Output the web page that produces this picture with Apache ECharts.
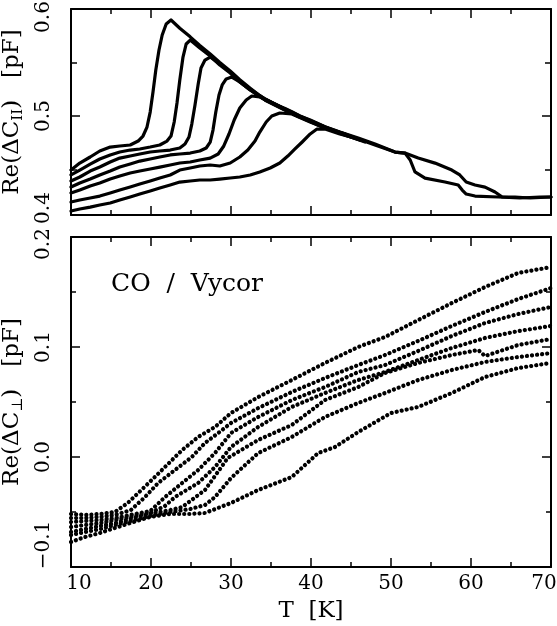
<!DOCTYPE html>
<html><head><meta charset="utf-8">
<script src="https://cdn.jsdelivr.net/npm/echarts@6/dist/echarts.min.js"></script>
<style>html,body{margin:0;padding:0;background:#fff}#c{width:557px;height:626px}</style>
</head><body><div id="c"></div>
<script>
// ---------- axes / ticks ----------
const xMin = 10, xMax = 70, xStep = 10;
const topYMin = 0.4075, topYMax = 0.6;
const topLabelValues = [0.4075, 0.5, 0.6];
const topMajorTicks = [0.5];
const topMinorTicks = [0.45, 0.55];
const botYMin = -0.1, botYMax = 0.2, botYStep = 0.1;
const annotation = 'CO  /  Vycor';
const xTitle = 'T  [K]';

// ---------- top panel: Re(dC_par) [pF] ----------
const topA = [[10,0.4495],[11.1,0.456],[12.4,0.4617],[13.6,0.4673],[14.9,0.471],[16.1,0.472],[17.4,0.4729],[18.4,0.4766],[19,0.4813],[19.5,0.4897],[19.9,0.5037],[20.25,0.5224],[20.6,0.543],[21,0.5617],[21.4,0.5757],[21.9,0.586],[22.5,0.5897],[23.6,0.582],[24.9,0.574],[26.1,0.566],[27.4,0.558],[28.6,0.55],[29.9,0.542],[31.1,0.534],[32.4,0.526],[33.4,0.52],[34.25,0.516],[35.5,0.511],[36.75,0.507],[37.6,0.504],[38.6,0.5],[39.9,0.4963],[41.75,0.49],[43.6,0.485],[45.9,0.4794],[48,0.4738],[50.5,0.4663],[51.75,0.4654],[53.4,0.4607],[55.5,0.456],[57.6,0.4495],[58.6,0.4449],[59.4,0.4383],[60.5,0.4355],[61.75,0.4336],[63,0.429],[63.9,0.4243],[65.5,0.4243],[67.4,0.4234],[70,0.4243]];
const topB = [[10,0.4449],[11.1,0.4495],[12.4,0.4551],[13.6,0.4598],[14.9,0.4636],[16.1,0.4664],[17.4,0.4682],[18.6,0.4692],[19.9,0.471],[21.1,0.4729],[22,0.4766],[22.5,0.4813],[22.9,0.4944],[23.25,0.5121],[23.6,0.5336],[24,0.5551],[24.4,0.5673],[24.9,0.571],[26.1,0.5636],[27.4,0.5561],[28.6,0.5477],[29.9,0.5402],[31.1,0.5318],[32.4,0.5243],[34.25,0.515],[36.75,0.5056],[38.6,0.4991],[41.75,0.4888],[44.25,0.4832]];
const topC = [[10,0.4393],[11.1,0.443],[12.4,0.4486],[13.6,0.4523],[14.9,0.457],[16.1,0.4607],[17.4,0.4626],[18.6,0.4645],[19.9,0.4664],[21.1,0.4673],[22.4,0.4682],[23.6,0.4701],[24.25,0.4738],[24.75,0.4804],[25.1,0.4925],[25.5,0.5103],[25.9,0.5299],[26.25,0.5449],[26.75,0.5523],[27.4,0.5551],[28.6,0.5486],[29.9,0.5411],[31.1,0.5327],[32.4,0.5252],[34.25,0.5159],[36.75,0.5065],[38.6,0.5],[41.75,0.4897],[43.6,0.4841]];
const topD = [[10,0.4336],[11.1,0.4374],[12.4,0.4411],[13.6,0.4449],[14.9,0.4486],[16.1,0.4523],[17.4,0.4551],[18.6,0.4579],[19.9,0.4598],[21.1,0.4617],[22.4,0.4636],[23.6,0.4645],[24.9,0.4654],[26.1,0.4673],[26.9,0.4701],[27.4,0.4757],[27.75,0.4869],[28.1,0.5037],[28.5,0.5196],[28.9,0.529],[29.4,0.5346],[30.1,0.5364],[31.1,0.5318],[32.4,0.5243],[34.25,0.515],[36.75,0.5056],[38.6,0.4991],[41.75,0.4897],[44.25,0.4832],[45.9,0.4785]];
const topE = [[10,0.428],[11.1,0.4308],[12.4,0.4346],[13.6,0.4374],[14.9,0.4411],[16.1,0.4439],[17.4,0.4467],[18.6,0.4486],[19.9,0.4505],[21.1,0.4523],[22.4,0.4542],[23.6,0.4561],[24.9,0.457],[26.1,0.4589],[27.4,0.4607],[28.4,0.4645],[29.1,0.472],[29.75,0.4832],[30.4,0.4963],[31.1,0.5075],[31.9,0.5149],[32.6,0.5187],[33.6,0.5178],[35.5,0.5112],[37.6,0.5028],[39.9,0.4953],[41.75,0.4888],[44.25,0.4822],[46.1,0.4776]];
const topF = [[10,0.4196],[11.1,0.4215],[12.4,0.4234],[13.6,0.4252],[14.9,0.428],[16.1,0.4308],[17.4,0.4336],[18.6,0.4364],[19.9,0.4393],[21.1,0.4421],[22.4,0.4449],[23.6,0.4495],[24.9,0.4514],[26.1,0.4533],[27.4,0.4542],[28.6,0.4533],[29.9,0.4561],[31.1,0.4617],[32.1,0.4682],[33,0.4766],[33.6,0.485],[34.4,0.4944],[35.1,0.5],[36.1,0.5028],[37.6,0.5019],[39.9,0.4944],[41.75,0.4888],[44.25,0.4822],[46.75,0.4757]];
const topG = [[10,0.4112],[11.1,0.4131],[12.4,0.4149],[13.6,0.4168],[14.9,0.4187],[16.1,0.4215],[17.4,0.4243],[18.6,0.4271],[19.9,0.4299],[21.1,0.4327],[22.4,0.4355],[23.6,0.4383],[24.9,0.4393],[26.1,0.4402],[27.4,0.4402],[28.6,0.4411],[29.9,0.4421],[31.1,0.443],[32.4,0.4449],[33.6,0.4477],[34.9,0.4514],[36.1,0.4561],[37.1,0.4626],[38,0.4692],[38.9,0.4757],[39.9,0.4832],[40.75,0.4878],[41.75,0.4878],[43.6,0.4832],[45.9,0.4785],[48,0.4729],[50.5,0.4663],[51.75,0.4654],[52.4,0.4589],[53,0.4477],[54.25,0.442],[56.75,0.4383],[58.4,0.4355],[58.9,0.4308],[59.4,0.4271],[60.5,0.4252],[63.4,0.4243],[66.1,0.4234],[68.6,0.4243],[70,0.4243]];

// ---------- bottom panel: Re(dC_perp) [pF] ----------
const bot1 = [[10,-0.0518],[11.75,-0.0527],[13.6,-0.0518],[15.5,-0.05],[17.1,-0.0418],[18.4,-0.0327],[20.1,-0.0209],[21.75,-0.0091],[23.9,0.0064],[25.9,0.0182],[28,0.0273],[30,0.04],[33.4,0.0545],[37.6,0.07],[41.75,0.0855],[45.9,0.1],[49.25,0.1091],[53.4,0.1245],[57.6,0.14],[61.75,0.1545],[65.9,0.1673],[70,0.1727]];
const bot2 = [[10,-0.0555],[11.75,-0.0555],[13.6,-0.0545],[15.5,-0.0527],[17.5,-0.0482],[19.25,-0.0364],[20.9,-0.0236],[23,-0.0118],[25.1,0],[26.75,0.0127],[28.4,0.0218],[30,0.0309],[33.4,0.0445],[37.6,0.0591],[41.75,0.0718],[45.9,0.0836],[49.25,0.0927],[53.4,0.1055],[57.6,0.1191],[61.75,0.1318],[65.9,0.1436],[70,0.1536]];
const bot3 = [[10,-0.0591],[11.75,-0.0582],[13.6,-0.0573],[15.5,-0.0555],[17.4,-0.0527],[19.9,-0.0491],[21.75,-0.0364],[23.9,-0.0236],[25.9,-0.0118],[28,0.0036],[30,0.0218],[33.4,0.0364],[37.6,0.0518],[41.75,0.0636],[45.9,0.0773],[49.25,0.0836],[53.4,0.0964],[57.6,0.11],[61.75,0.1218],[65.9,0.13],[70,0.1364]];
const bot4 = [[10,-0.0636],[11.75,-0.0618],[13.6,-0.06],[15.5,-0.0573],[17.4,-0.0545],[19.9,-0.0509],[21.75,-0.0445],[23,-0.0364],[25.9,-0.0236],[28,-0.0091],[30,0.0091],[33.4,0.0273],[37.6,0.0455],[41.75,0.0582],[45.9,0.07],[49.25,0.0773],[53.4,0.0882],[57.6,0.0991],[61.75,0.1082],[65.9,0.1145],[70,0.1191]];
const bot5 = [[10,-0.0682],[11.75,-0.0655],[13.6,-0.0627],[15.5,-0.06],[17.4,-0.0564],[19.9,-0.0518],[22.4,-0.0482],[23.9,-0.0455],[26.75,-0.03],[29.6,-0.0009],[33.4,0.0155],[37.6,0.0291],[41.75,0.0518],[45.9,0.0636],[49.25,0.0764],[53.4,0.0855],[57.6,0.0927],[60.9,0.0973],[61.75,0.0918],[65.9,0.1018],[70,0.1073]];
const bot6 = [[10,-0.0709],[11.75,-0.0682],[13.6,-0.0655],[15.5,-0.0618],[17.4,-0.0582],[19.9,-0.0536],[22.4,-0.05],[24.9,-0.0473],[26.75,-0.0436],[28,-0.0364],[30,-0.0191],[33.4,0.0036],[37.6,0.0182],[41.75,0.0364],[45.9,0.0491],[49.25,0.0582],[53.4,0.07],[57.6,0.0791],[61.75,0.0864],[65.9,0.0909],[70,0.0945]];
const bot7 = [[10,-0.0773],[11.75,-0.0727],[13.6,-0.0691],[15.5,-0.0645],[17.4,-0.06],[19.9,-0.0545],[22.4,-0.0518],[24.9,-0.0518],[26.75,-0.0509],[30,-0.0418],[33.4,-0.03],[37.6,-0.0182],[40.9,0.0036],[43,0.0091],[45.9,0.0227],[50,0.04],[53.4,0.0455],[57.6,0.0582],[61.75,0.0727],[65.9,0.0809],[70,0.0855]];

const topCurves = [topA, topB, topC, topD, topE, topF, topG];
const botCurves = [bot1, bot2, bot3, bot4, bot5, bot6, bot7];

// ---------- styling ----------
const FONT = '"DejaVu Serif", serif';
const BLACK = '#000';
const lbl = (size, extra) => Object.assign({fontFamily: FONT, fontSize: size, color: BLACK, lineHeight: size + 2}, extra || {});

function xAxis(gridIndex, position, showLabel) {
  const a = {
    type: 'value', gridIndex, position, min: xMin, max: xMax, interval: xStep,
    axisLine: {show: true, onZero: false, lineStyle: {color: BLACK, width: 2}},
    axisTick: {show: true, inside: true, length: 9, lineStyle: {color: BLACK, width: 1.5}},
    minorTick: {show: true, splitNumber: 2, length: 5, lineStyle: {color: BLACK, width: 1.5}},
    splitLine: {show: false}, minorSplitLine: {show: false},
    axisLabel: {show: false}
  };
  if (showLabel) {
    a.axisLabel = {
      show: true, margin: 6,
      formatter: v => v === xMin ? '{l|' + v + '}' : (v === xMax ? '{r|' + v + '}' : '{n|' + v + '}'),
      rich: {n: lbl(20), l: lbl(20, {padding: [0, 0, 0, 16]}), r: lbl(20, {padding: [0, 14, 0, 0]})}
    };
    a.name = xTitle; a.nameLocation = 'middle'; a.nameGap = 30;
    a.nameTextStyle = {fontFamily: FONT, fontSize: 23, color: BLACK, lineHeight: 24};
  }
  return a;
}

function yTitle(sub) {
  return '{m|Re(ΔC}{s|' + sub + '}{m|)   [pF]}';
}
const titleRich = {m: {fontFamily: FONT, fontSize: 23, lineHeight: 28, color: BLACK, verticalAlign: 'middle'},
                   s: {fontFamily: FONT, fontSize: 15, lineHeight: 15, color: BLACK, verticalAlign: 'bottom'}};

const yAxes = [
  // 0: top-left main
  {type: 'value', gridIndex: 0, position: 'left', min: topYMin, max: topYMax,
   axisLine: {show: true, onZero: false, lineStyle: {color: BLACK, width: 2}},
   axisTick: {show: true, inside: true, length: 9, customValues: topMajorTicks, lineStyle: {color: BLACK, width: 1.5}},
   axisLabel: {show: true, rotate: 90, margin: 16, customValues: topLabelValues,
     formatter: v => { const s = v.toFixed(1); return v > 0.59 ? '{t|' + s + '}' : (v < 0.41 ? '{b|' + s + '}' : '{n|' + s + '}'); },
     rich: {n: lbl(20), t: lbl(20, {padding: [0, 16, 0, 0]}), b: lbl(20, {padding: [0, 0, 0, 14]})}},
   splitLine: {show: false},
   name: yTitle('II'), nameLocation: 'middle', nameRotate: 90, nameGap: 31,
   nameTextStyle: {rich: titleRich}},
  // 1: top-left minor ticks
  {type: 'value', gridIndex: 0, position: 'left', min: topYMin, max: topYMax,
   axisLine: {show: false}, axisLabel: {show: false}, splitLine: {show: false},
   axisTick: {show: true, inside: true, length: 6, customValues: topMinorTicks, lineStyle: {color: BLACK, width: 1.5}}},
  // 2: top-right
  {type: 'value', gridIndex: 0, position: 'right', min: topYMin, max: topYMax,
   axisLine: {show: true, onZero: false, lineStyle: {color: BLACK, width: 2}},
   axisTick: {show: true, inside: true, length: 9, customValues: topMajorTicks, lineStyle: {color: BLACK, width: 1.5}},
   axisLabel: {show: false}, splitLine: {show: false}},
  // 3: top-right minor
  {type: 'value', gridIndex: 0, position: 'right', min: topYMin, max: topYMax,
   axisLine: {show: false}, axisLabel: {show: false}, splitLine: {show: false},
   axisTick: {show: true, inside: true, length: 6, customValues: topMinorTicks, lineStyle: {color: BLACK, width: 1.5}}},
  // 4: bottom-left
  {type: 'value', gridIndex: 1, position: 'left', min: botYMin, max: botYMax, interval: botYStep,
   axisLine: {show: true, onZero: false, lineStyle: {color: BLACK, width: 2}},
   axisTick: {show: true, inside: true, length: 9, lineStyle: {color: BLACK, width: 1.5}},
   minorTick: {show: true, splitNumber: 2, length: 5, lineStyle: {color: BLACK, width: 1.5}},
   axisLabel: {show: true, rotate: 90, margin: 16,
     formatter: v => { const s = v.toFixed(1).replace('-', '\u2212'); return v > 0.19 ? '{t|' + s + '}' : (v < -0.09 ? '{b|' + s + '}' : '{n|' + s + '}'); },
     rich: {n: lbl(20), t: lbl(20, {padding: [0, 14, 0, 0]}), b: lbl(20, {padding: [0, 0, 0, 44]})}},
   splitLine: {show: false}, minorSplitLine: {show: false},
   name: yTitle('⊥'), nameLocation: 'middle', nameRotate: 90, nameGap: 31,
   nameTextStyle: {rich: titleRich}},
  // 5: bottom-right
  {type: 'value', gridIndex: 1, position: 'right', min: botYMin, max: botYMax, interval: botYStep,
   axisLine: {show: true, onZero: false, lineStyle: {color: BLACK, width: 2}},
   axisTick: {show: true, inside: true, length: 9, lineStyle: {color: BLACK, width: 1.5}},
   minorTick: {show: true, splitNumber: 2, length: 5, lineStyle: {color: BLACK, width: 1.5}},
   axisLabel: {show: false}, splitLine: {show: false}, minorSplitLine: {show: false}}
];

const series = [];
topCurves.forEach(d => series.push({type: 'line', xAxisIndex: 0, yAxisIndex: 0, data: d, showSymbol: false, silent: true,
  lineStyle: {color: BLACK, width: 3.2, join: 'round', cap: 'round'}}));
botCurves.forEach(d => series.push({type: 'line', xAxisIndex: 2, yAxisIndex: 4, data: d, showSymbol: false, silent: true,
  lineStyle: {color: BLACK, width: 4.2, type: [0.1, 5], cap: 'round', join: 'round'}}));

const chart = echarts.init(document.getElementById('c'), null, {renderer: 'canvas'});
chart.setOption({
  animation: false,
  backgroundColor: '#fff',
  grid: [
    {left: 71, top: 9, width: 480, height: 206, containLabel: false, outerBoundsMode: 'none'},
    {left: 71, top: 237, width: 480, height: 330, containLabel: false, outerBoundsMode: 'none'}
  ],
  xAxis: [xAxis(0, 'bottom', false), xAxis(0, 'top', false), xAxis(1, 'bottom', true), xAxis(1, 'top', false)],
  yAxis: yAxes,
  series,
  graphic: [{type: 'text', left: 111, top: 272, silent: true,
    style: {text: annotation, font: '25px "DejaVu Serif"', fill: BLACK}}]
});
</script>
</body></html>
